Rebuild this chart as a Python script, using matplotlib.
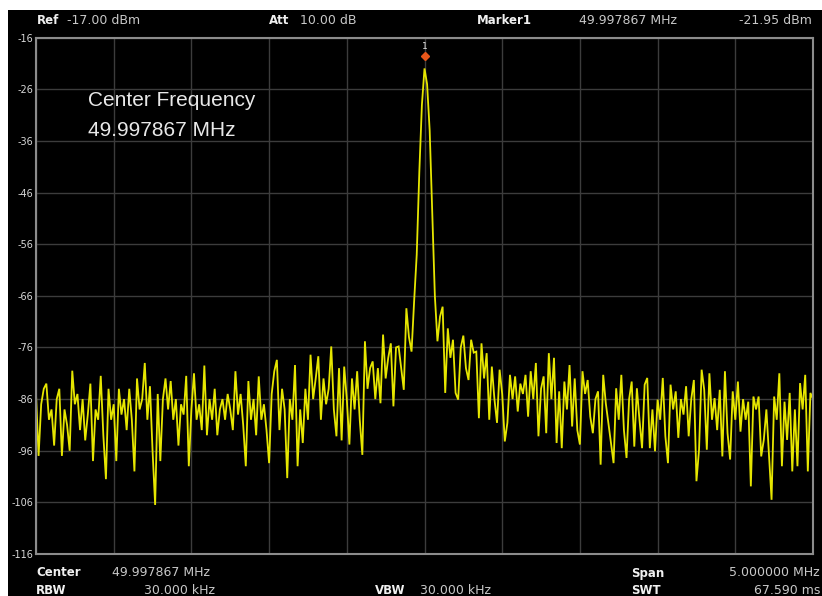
import numpy as np
import matplotlib
matplotlib.use("Agg")
import matplotlib.pyplot as plt
from matplotlib.patches import Rectangle
from matplotlib.transforms import offset_copy

# analyzer settings (from the screen readout)
center_mhz = 49.997867
span_mhz = 5.0
ref_level = -17.00
att_db = 10.00
marker_freq = 49.997867
marker_level = -21.95
y_ticks = [-16, -26, -36, -46, -56, -66, -76, -86, -96, -106, -116]

# trace levels in dBm, 301 sweep points
level = [
    -85, -97, -87, -84, -83, -90, -88, -95, -86, -84,
    -97, -88, -91, -96, -80.5, -87, -85, -92, -86, -94,
    -89, -83, -98, -88, -90, -81.5, -93, -101.5, -84, -90,
    -87, -98, -84, -89, -86, -92, -84, -90, -100, -82,
    -88, -86, -79, -90, -83.5, -96, -106.5, -85, -98, -86,
    -82, -88, -82.5, -90, -86, -95, -87, -89, -81.5, -99,
    -88, -81, -90, -87, -92, -79.5, -93, -86, -90, -84,
    -93, -88, -86, -90, -85, -88, -92, -80.6, -89, -85,
    -91, -99, -82.5, -90, -86, -93, -81.6, -90, -87, -92,
    -98.4, -85, -80.6, -78.4, -92, -84, -88, -101.3, -86, -90,
    -79.4, -99, -88, -94.5, -84, -90, -77.4, -86, -82, -77.7,
    -90, -82, -87, -84, -75.8, -88, -93.2, -80, -94, -79.7,
    -86, -94.8, -82, -88, -80.6, -90, -96.8, -74.8, -84, -80,
    -78.7, -86, -80, -86.8, -73.5, -82, -78, -75.2, -87.4, -76,
    -75.8, -80, -84.2, -68.4, -74, -76.8, -67, -58, -42, -29,
    -21.95, -25, -34, -50, -66, -74.8, -70, -68.1, -84.8, -72.3,
    -78, -74.5, -84.8, -86.1, -76, -73.7, -80, -82.3, -74.5, -77,
    -76.8, -89.7, -75.2, -82, -77.1, -90, -79.7, -86, -90.6, -80.3,
    -85, -94.2, -90.6, -81.3, -86, -81.6, -88.4, -83, -85, -81.3,
    -89.4, -80.6, -86, -79, -93.2, -84, -81.6, -92.6, -77.1, -86,
    -78, -94.5, -84.5, -95.5, -82.6, -88, -79.4, -91.3, -82, -92,
    -94.8, -80.6, -85, -82.3, -89.4, -92.6, -86, -84.5, -98.7, -81.3,
    -86.8, -90.6, -94.5, -98.4, -83.9, -90, -81.3, -92, -97.4, -86,
    -82.6, -95.2, -83.9, -90, -95.5, -83.2, -81.9, -95.5, -88, -96.1,
    -86.1, -90, -81.9, -93.2, -98.4, -83.2, -88, -84.5, -93.5, -86,
    -89, -83.5, -93.2, -86, -82.3, -101.9, -95.8, -80.3, -84.2, -95.8,
    -81, -90, -85.8, -92, -84.2, -97.1, -80.6, -92.6, -97.7, -84.5,
    -90, -82.6, -92.3, -86, -90, -86.5, -102.9, -85.5, -88, -85.5,
    -97.1, -93.9, -88, -96.8, -105.5, -85.5, -90, -81, -99, -86.5,
    -93.9, -84.8, -100, -88, -99, -82.9, -88, -81.3, -100, -84.8,
    -86,
]

freq = np.linspace(center_mhz - span_mhz / 2, center_mhz + span_mhz / 2, len(level))

W, H = 822, 596
fig = plt.figure(figsize=(W / 100, H / 100), dpi=100, facecolor="white")
# black screen area (white strip at top and left of the screenshot)
fig.patches.append(Rectangle((8 / W, 0), 1 - 8 / W, 1 - 10 / H, transform=fig.transFigure,
                             facecolor="black", edgecolor="none", zorder=-10))

left, right, top, bottom = 36, 813, 37.7, 554
ax = fig.add_axes([left / W, 1 - bottom / H, (right - left) / W, (bottom - top) / H])
ax.set_facecolor("black")
ax.plot(freq, level, color="#e6e600", linewidth=1.3, solid_joinstyle="miter")

ax.set_xlim(freq[0], freq[-1])
ax.set_ylim(-116, -16)
ax.set_xticks(np.linspace(freq[0], freq[-1], 11))
ax.set_xticklabels([])
ax.set_yticks(y_ticks)
ax.set_yticklabels([str(t) for t in y_ticks])
ax.tick_params(axis="both", length=0, pad=2, colors="#d8d8d8", labelsize=7)
ax.grid(True, color="#3c3c3c", linewidth=1.0)
for s in ax.spines.values():
    s.set_color("#8c8c8c")
    s.set_linewidth(1.5)

# marker 1 on the peak
pk = int(np.argmax(level))
mk_tr = offset_copy(ax.transData, fig=fig, y=9, units="points")
ax.plot([freq[pk]], [marker_level], marker="D", markersize=4.5, color="#e8561a",
        transform=mk_tr, clip_on=False)
lab_tr = offset_copy(ax.transData, fig=fig, y=16, units="points")
ax.text(freq[pk], marker_level, "1", color="#e0e0e0", fontsize=6.5, ha="center",
        va="center", transform=lab_tr)

big = dict(color="#e8e8e8", fontsize=15, family="Liberation Sans", transform=ax.transAxes, va="center")
ax.text((88 - left) / (right - left), (bottom - 101) / (bottom - top), "Center Frequency", **big)
ax.text((88 - left) / (right - left), (bottom - 131) / (bottom - top), f"{center_mhz:.6f} MHz", **big)


def label(px, py, s, bold=False, ha="left"):
    fig.text(px / W, 1 - py / H, s, color="#f0f0f0" if bold else "#c8c8c8",
             fontsize=8.5 if bold else 9, ha=ha, va="center",
             fontweight="bold" if bold else "normal")


# header readout
label(37, 21, "Ref", bold=True)
label(67, 21, f"{ref_level:.2f} dBm")
label(269, 21, "Att", bold=True)
label(300, 21, f"{att_db:.2f} dB")
label(477, 21, "Marker1", bold=True)
label(579, 21, f"{marker_freq:.6f} MHz")
label(812, 21, f"{marker_level:.2f} dBm", ha="right")

# footer readout
label(36, 573, "Center", bold=True)
label(112, 573, f"{center_mhz:.6f} MHz")
label(631, 573, "Span", bold=True)
label(820, 573, f"{span_mhz:.6f} MHz", ha="right")
label(36, 590, "RBW", bold=True)
label(215, 590, "30.000 kHz", ha="right")
label(375, 590, "VBW", bold=True)
label(420, 590, "30.000 kHz")
label(631, 590, "SWT", bold=True)
label(820, 590, "67.590 ms", ha="right")

fig.savefig("out.png", dpi=100, facecolor="white")
